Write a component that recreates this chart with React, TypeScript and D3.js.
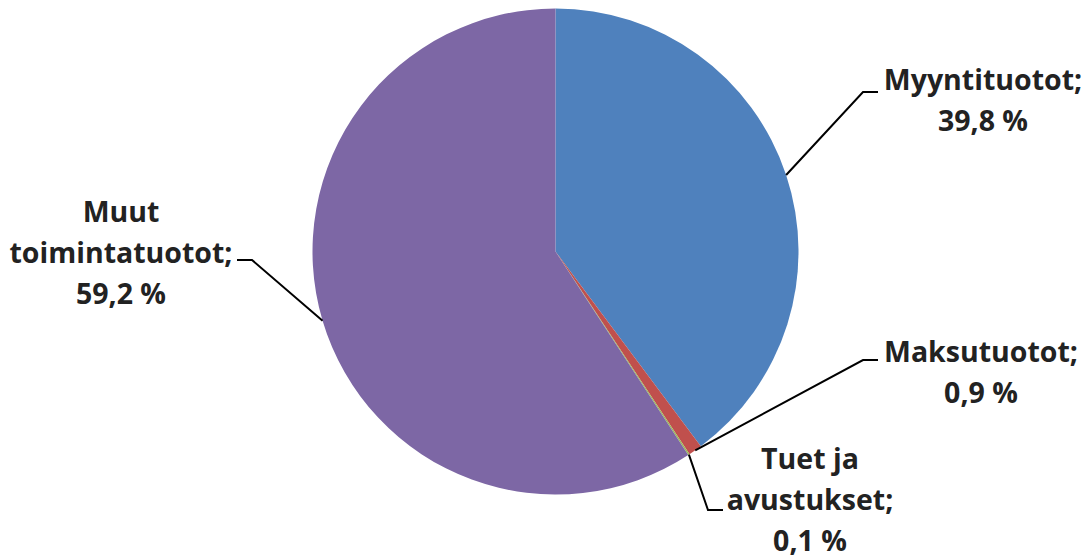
import React from "react";
import * as d3 from "d3";

const categories = ["Myyntituotot", "Maksutuotot", "Tuet ja avustukset", "Muut toimintatuotot"];
const values = [39.8, 0.9, 0.1, 59.2];
const valueLabels = ["39,8 %", "0,9 %", "0,1 %", "59,2 %"];
const labelLines = [
  ["Myyntituotot;", "39,8 %"],
  ["Maksutuotot;", "0,9 %"],
  ["Tuet ja", "avustukset;", "0,1 %"],
  ["Muut", "toimintatuotot;", "59,2 %"],
];
const colors = ["#4F81BD", "#C0504D", "#9BBB59", "#7D67A5"];

// label layout: text center x, first baseline, leader elbow and end
const labelLayout = [
  { cx: 983, y0: 90, elbow: [863, 92], end: [878, 92] },
  { cx: 981, y0: 362, elbow: [863, 360], end: [878, 360] },
  { cx: 810, y0: 469, elbow: [708, 510], end: [723, 510] },
  { cx: 121, y0: 222, elbow: [252, 260], end: [237, 260] },
];

const W = 1090;
const H = 560;
const CX = 555.5;
const CY = 251.5;
const R = 243;
const LINE_H = 41;

export default function App() {
  const pie = d3.pie<number>().sort(null).value((d) => d);
  const arcs = pie(values);
  const arc = d3.arc<d3.PieArcDatum<number>>().innerRadius(0).outerRadius(R);

  return (
    <svg
      width={W}
      height={H}
      style={{ position: "absolute", left: 0, top: 0, background: "#fff", fontVariantLigatures: "none" }}
      fontFamily="'Open Sans', Lato, sans-serif"
    >
      <g transform={`translate(${CX},${CY})`}>
        {arcs.map((a, i) => (
          <path key={categories[i]} d={arc(a) || ""} fill={colors[i]} stroke="none" />
        ))}
      </g>
      {arcs.map((a, i) => {
        const mid = (a.startAngle + a.endAngle) / 2;
        const sx = CX + R * Math.sin(mid);
        const sy = CY - R * Math.cos(mid);
        const L = labelLayout[i];
        return (
          <polyline
            key={"l" + i}
            points={`${sx},${sy} ${L.elbow[0]},${L.elbow[1]} ${L.end[0]},${L.end[1]}`}
            fill="none"
            stroke="#000"
            strokeWidth={2}
          />
        );
      })}
      {labelLines.map((lines, i) => {
        const L = labelLayout[i];
        return (
          <text
            key={"t" + i}
            x={L.cx}
            y={L.y0}
            textAnchor="middle"
            fontSize={28.5}
            fontWeight="bold"
            fill="#222"
            aria-label={`${categories[i]}; ${valueLabels[i]}`}
          >
            {lines.map((ln, j) => (
              <tspan key={j} x={L.cx} dy={j === 0 ? 0 : LINE_H}>
                {ln}
              </tspan>
            ))}
          </text>
        );
      })}
    </svg>
  );
}
